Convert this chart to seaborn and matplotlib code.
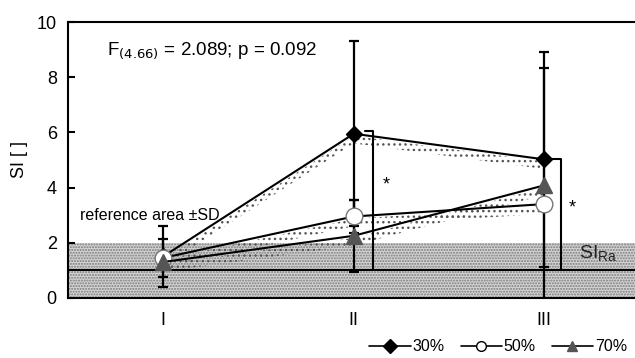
import numpy as np
import pandas as pd
import seaborn as sns
import matplotlib.pyplot as plt
from matplotlib.lines import Line2D

# data
phases = ["I", "II", "III"]
xpos = [0.5, 1.5, 2.5]
series = ["30%", "50%", "70%"]
si_30 = [1.5, 5.95, 5.02]
si_50 = [1.45, 2.95, 3.4]
si_70 = [1.3, 2.25, 4.08]
sd_30 = [1.1, 3.35, 3.9]
sd_50 = [0.7, 0.6, 0.0]
sd_70 = [0.0, 1.3, 4.25]
ref_lo, ref_hi, si_ra = 0.0, 2.0, 1.0
# significance brackets: (x start, x end, top y, star x, star y)
brackets = [(1.56, 1.60, 6.05, 1.67, 4.1), (2.52, 2.59, 5.04, 2.645, 3.25)]

df = pd.DataFrame({
    "x": xpos * 3,
    "si": si_30 + si_50 + si_70,
    "sd": sd_30 + sd_50 + sd_70,
    "group": np.repeat(series, 3),
})

sns.set_style("white")
plt.rcParams["font.family"] = ["Liberation Sans", "DejaVu Sans"]
plt.rcParams["text.color"] = "black"
plt.rcParams["xtick.color"] = "black"
plt.rcParams["ytick.color"] = "black"
plt.rcParams["axes.labelcolor"] = "black"
plt.rcParams["hatch.linewidth"] = 1.0

fig = plt.figure(figsize=(6.35, 3.58), dpi=100)
ax = fig.add_axes([0.107, 0.168, 0.893, 0.7705])

styles = {
    "30%": dict(marker="D", ms=8.5, mfc="black", mec="black", mew=1),
    "50%": dict(marker="o", ms=12, mfc="white", mec="#777777", mew=1),
    "70%": dict(marker="^", ms=11, mfc="#555555", mec="#555555", mew=1),
}

# reference area
ax.axhspan(ref_lo, ref_hi, facecolor="#d4d4d4", hatch="......", edgecolor="#7a7a7a", lw=0, zorder=0)
ax.axhline(si_ra, color="black", lw=1.5, zorder=2)

for g in series:
    d = df[df["group"] == g]
    # dotted shadow under each line
    ax.fill_between(d["x"], d["si"] - 0.08, d["si"] - 0.35, facecolor="none",
                    hatch="...", edgecolor="#555555", lw=0, zorder=1)
    ax.errorbar(d["x"], d["si"], yerr=d["sd"], fmt="none", ecolor="black",
                elinewidth=1.6, capsize=3.5, capthick=1.6, zorder=3)

for x0, x1, ytop, sx, sy in brackets:
    ax.plot([x0, x1, x1], [ytop, ytop, si_ra], color="black", lw=1.5, zorder=3)
    ax.text(sx, sy, "*", fontsize=13, ha="center", va="center")

for g in series:
    d = df[df["group"] == g]
    sns.lineplot(data=d, x="x", y="si", color="black", lw=1.5, ax=ax, zorder=4, **styles[g])

ax.set_xlim(0, 2.976)
ax.set_ylim(0, 10)
ax.set_xticks(xpos)
ax.set_xticklabels(phases, fontsize=13)
ax.set_xticks([1, 2], minor=True)
ax.tick_params(axis="x", which="major", length=0, pad=10)
ax.tick_params(axis="x", which="minor", direction="in", length=5, width=1.5)
ax.set_yticks(range(0, 11, 2))
ax.tick_params(axis="y", direction="in", length=5, width=1.5, labelsize=13, pad=8, left=True)
ax.set_xlabel("")
ax.set_ylabel("SI [ ]", fontsize=13, labelpad=6)
for side in ["left", "bottom", "top"]:
    ax.spines[side].set_color("black")
    ax.spines[side].set_linewidth(1.5)
ax.spines["right"].set_visible(False)

ax.text(0.205, 8.95, "F$_{(4.66)}$ = 2.089; p = 0.092", fontsize=13.5, ha="left", va="center")
ax.text(0.065, 3.0, "reference area ±SD", fontsize=11.5, ha="left", va="center")
ax.text(2.68, 1.6, "SI$_{\\mathregular{Ra}}$", fontsize=14, ha="left", va="center", color="#222222")

handles = [Line2D([], [], color="black", lw=1.2, marker=styles[g]["marker"],
                  ms=7, mfc=styles[g]["mfc"], mec="black" if g != "70%" else "#555555")
           for g in series]
fig.legend(handles, series, loc="lower right", bbox_to_anchor=(1.01, -0.03), ncol=3,
           frameon=False, fontsize=11.5, handlelength=2.6, handletextpad=0.1, columnspacing=1.0)

fig.savefig("out.png", dpi=100)
